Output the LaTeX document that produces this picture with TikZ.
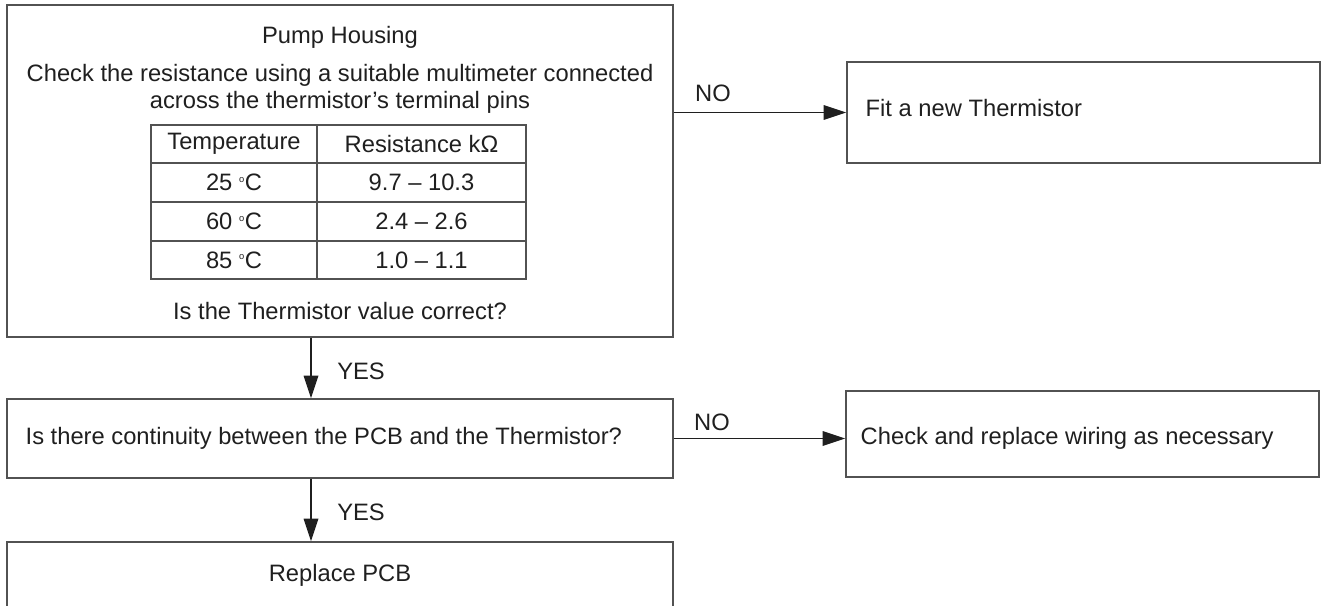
\documentclass[tikz,border=0pt]{standalone}
\usepackage{fontspec}
\setmainfont{Liberation Sans}
\usetikzlibrary{arrows.meta, positioning, fit}

\begin{document}
\begin{tikzpicture}[
    x=0.75pt, y=-0.75pt,
    font=\fontsize{17.8}{20.25}\selectfont,
    every node/.style={text=black!88},
    block/.style={rectangle, draw=black!68, line width=1.1pt, inner sep=0pt},
    tblline/.style={draw=black!68, line width=0.9pt},
    arrow/.style={-{Triangle[length=17pt, width=11pt]}, line width=0.9pt, draw=black!88}
]
    \useasboundingbox (0,0) rectangle (1323,606);

    % boxes
    \node[block, fit={(7,5) (673,337)}] (pump) {};
    \node[block, fit={(847,62) (1320,163)}] (fitnew) {};
    \node[block, fit={(7,399) (673,478)}] (cont) {};
    \node[block, fit={(846,391) (1319,477)}] (wiring) {};
    \node[block, fit={(7,542) (673,660)}] (pcb) {};

    % pump housing text
    \node (title) at (340,37) {Pump Housing};
    \node[align=center] (instr) at (340,88.5) {Check the resistance using a suitable multimeter connected\\across the thermistor’s terminal pins};
    \node (question) at (340,311) {Is the Thermistor value correct?};

    % table
    \draw[tblline] (151,125) rectangle (526,279);
    \draw[tblline] (317,125) -- (317,279);
    \foreach \y in {163,202,241}
        \draw[tblline] (151,\y) -- (526,\y);
    \node (thtemp) at (234,144) {Temperature};
    \node (thres) at (421.5,144) {Resistance kΩ};
    \foreach \y/\t/\r [count=\i] in {182.5/25/9.7 – 10.3, 221.5/60/2.4 – 2.6, 260/85/1.0 – 1.1} {
        \node (temp\i) at (234,\y) {\t\ \textsuperscript{\scriptsize o}C};
        \node (res\i) at (421.5,\y) {\r};
    }

    % other texts
    \node[anchor=west] (fittxt) at (861,108) {Fit a new Thermistor};
    \node[anchor=west] (conttxt) at (21,438) {Is there continuity between the PCB and the Thermistor?};
    \node[anchor=west] (wiretxt) at (856,438) {Check and replace wiring as necessary};
    \node (pcbtxt) at (340,575) {Replace PCB};

    % connectors
    \coordinate (drop) at (311,0);
    \draw[arrow] (pump.east |- fitnew.west) -- (fitnew.west);
    \draw[arrow] (cont.east) -- (cont.east -| wiring.west);
    \draw[arrow] (pump.south -| drop) -- (cont.north -| drop);
    \draw[arrow] (cont.south -| drop) -- (pcb.north -| drop);

    \node (no1) at (713,93) {NO};
    \node (no2) at (712,422) {NO};
    \node (yes1) at (361,371) {YES};
    \node (yes2) at (361,512) {YES};
\end{tikzpicture}
\end{document}
